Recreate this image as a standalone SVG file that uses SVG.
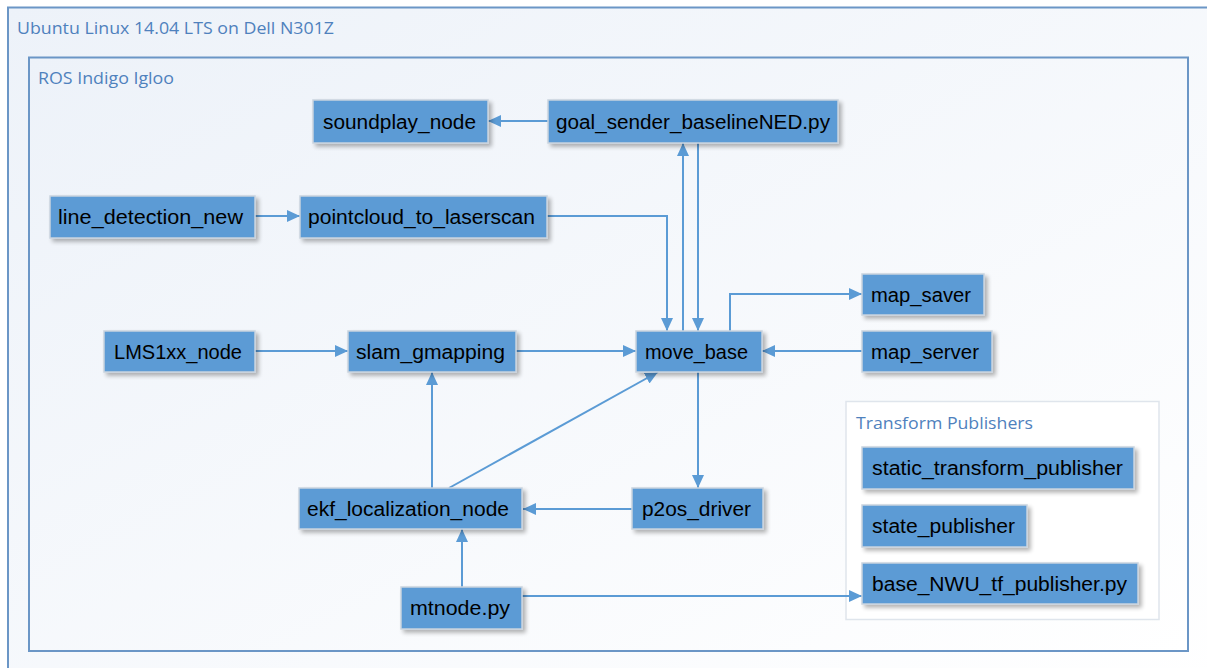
<svg xmlns="http://www.w3.org/2000/svg" width="1207" height="668" viewBox="0 0 1207 668">
<defs>
<linearGradient id="bg" x1="0" y1="0" x2="1" y2="1">
<stop offset="0" stop-color="#edf2f9"/>
<stop offset="1" stop-color="#ffffff"/>
</linearGradient>
<filter id="sh" x="-10%" y="-20%" width="130%" height="160%">
<feGaussianBlur in="SourceAlpha" stdDeviation="2"/>
<feOffset dx="3" dy="3" result="o"/>
<feComponentTransfer><feFuncA type="linear" slope="0.3"/></feComponentTransfer>
<feMerge><feMergeNode/><feMergeNode in="SourceGraphic"/></feMerge>
</filter>
<marker id="ah" markerUnits="userSpaceOnUse" markerWidth="14" markerHeight="14" viewBox="0 0 14 14" refX="13" refY="7" orient="auto">
<path d="M0,1 L13,7 L0,13 Z" fill="#5b9bd5"/>
</marker>
</defs>
<style>
.box{fill:#5b9bd5;stroke:#c9d3de;stroke-width:1.5;filter:url(#sh)}
.lbl{font-family:"Liberation Sans",Arial,sans-serif;font-size:20px;fill:#000}
.ttl{font-family:"Open Sans","Liberation Sans",sans-serif;font-size:16px;fill:#4f81bd}
.c{fill:none;stroke:#5b9bd5;stroke-width:2;marker-end:url(#ah)}
</style>
<rect x="0" y="0" width="1207" height="668" fill="#ffffff"/>
<g id="outer">
<rect x="8" y="7.5" width="1220" height="680" fill="url(#bg)" stroke="#6b96c6" stroke-width="2"/>
<text class="ttl" x="17" y="34" textLength="317" lengthAdjust="spacingAndGlyphs">Ubuntu Linux 14.04 LTS on Dell N301Z</text>
</g>
<g id="ros">
<rect x="29" y="57.5" width="1159" height="593.5" fill="url(#bg)" stroke="#6b96c6" stroke-width="2"/>
<text class="ttl" x="38" y="84" textLength="136" lengthAdjust="spacingAndGlyphs">ROS Indigo Igloo</text>
</g>
<g id="transform_publishers">
<rect x="846" y="401.5" width="313" height="218" fill="#ffffff" stroke="#dfe5ec" stroke-width="1.5"/>
<text class="ttl" x="856" y="429" textLength="177" lengthAdjust="spacingAndGlyphs">Transform Publishers</text>
</g>
<g id="connectors">
<path class="c" d="M548,121 L488,121"/>
<path class="c" d="M255,216 L300,216"/>
<path class="c" d="M547,216 L667,216 L667,331"/>
<path class="c" d="M683,331 L683,143"/>
<path class="c" d="M698,143 L698,331"/>
<path class="c" d="M255,351 L348,351"/>
<path class="c" d="M516,351 L636,351"/>
<path class="c" d="M862,351 L762,351"/>
<path class="c" d="M730,331 L730,294 L862,294"/>
<path class="c" d="M698,372 L698,488"/>
<path class="c" d="M632,509 L523,509"/>
<path class="c" d="M432,488 L432,372"/>
<path class="c" d="M449,488 L658,372"/>
<path class="c" d="M462,587 L462,529"/>
<path class="c" d="M522,596 L862,596"/>
</g>
<g id="soundplay_node"><rect class="box" x="313" y="100" width="175" height="43"/><text class="lbl" x="323" y="129" textLength="153" lengthAdjust="spacingAndGlyphs">soundplay_node</text></g>
<g id="goal_sender_baselineNED"><rect class="box" x="548" y="100" width="290" height="43"/><text class="lbl" x="556" y="129" textLength="274" lengthAdjust="spacingAndGlyphs">goal_sender_baselineNED.py</text></g>
<g id="line_detection_new"><rect class="box" x="50" y="196" width="205" height="42"/><text class="lbl" x="58" y="224" textLength="185" lengthAdjust="spacingAndGlyphs">line_detection_new</text></g>
<g id="pointcloud_to_laserscan"><rect class="box" x="300" y="196" width="247" height="42"/><text class="lbl" x="308" y="224" textLength="227" lengthAdjust="spacingAndGlyphs">pointcloud_to_laserscan</text></g>
<g id="LMS1xx_node"><rect class="box" x="104" y="331" width="151" height="41"/><text class="lbl" x="114" y="359" textLength="128" lengthAdjust="spacingAndGlyphs">LMS1xx_node</text></g>
<g id="slam_gmapping"><rect class="box" x="348" y="331" width="168" height="41"/><text class="lbl" x="356" y="359" textLength="149" lengthAdjust="spacingAndGlyphs">slam_gmapping</text></g>
<g id="move_base"><rect class="box" x="636" y="331" width="126" height="41"/><text class="lbl" x="645" y="359" textLength="103" lengthAdjust="spacingAndGlyphs">move_base</text></g>
<g id="map_saver"><rect class="box" x="862" y="274" width="122" height="41"/><text class="lbl" x="871" y="302" textLength="100" lengthAdjust="spacingAndGlyphs">map_saver</text></g>
<g id="map_server"><rect class="box" x="862" y="331" width="130" height="41"/><text class="lbl" x="871" y="359" textLength="108" lengthAdjust="spacingAndGlyphs">map_server</text></g>
<g id="ekf_localization_node"><rect class="box" x="299" y="488" width="223" height="41"/><text class="lbl" x="307" y="516" textLength="202" lengthAdjust="spacingAndGlyphs">ekf_localization_node</text></g>
<g id="p2os_driver"><rect class="box" x="632" y="488" width="131" height="41"/><text class="lbl" x="642" y="516" textLength="109" lengthAdjust="spacingAndGlyphs">p2os_driver</text></g>
<g id="mtnode"><rect class="box" x="401" y="587" width="121" height="42"/><text class="lbl" x="410" y="615" textLength="100" lengthAdjust="spacingAndGlyphs">mtnode.py</text></g>
<g id="static_transform_publisher"><rect class="box" x="862" y="447" width="272" height="42"/><text class="lbl" x="872" y="475" textLength="251" lengthAdjust="spacingAndGlyphs">static_transform_publisher</text></g>
<g id="state_publisher"><rect class="box" x="862" y="505" width="165" height="42"/><text class="lbl" x="872" y="533" textLength="143" lengthAdjust="spacingAndGlyphs">state_publisher</text></g>
<g id="base_NWU_tf_publisher"><rect class="box" x="862" y="563" width="276" height="41"/><text class="lbl" x="872" y="591" textLength="255" lengthAdjust="spacingAndGlyphs">base_NWU_tf_publisher.py</text></g>
</svg>
